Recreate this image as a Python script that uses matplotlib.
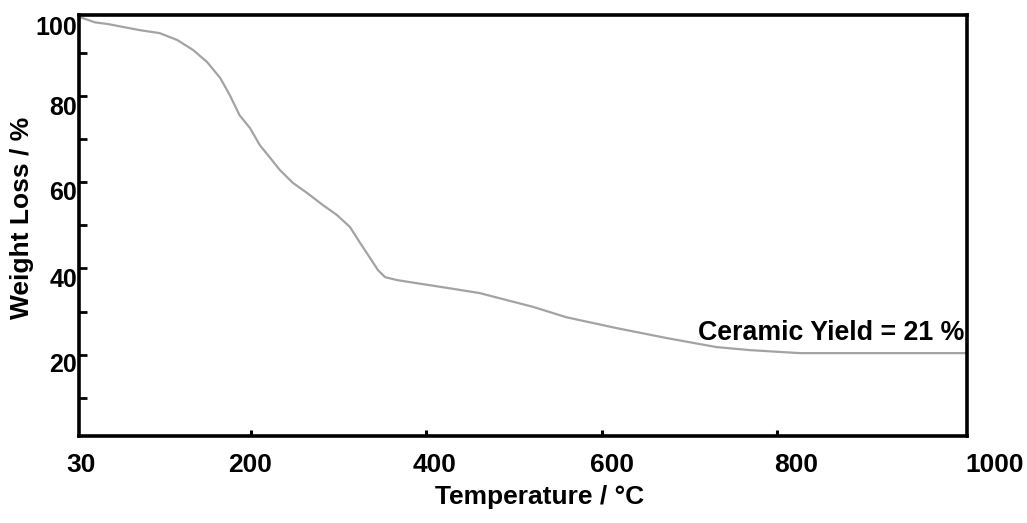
import matplotlib
matplotlib.use("Agg")
import matplotlib.pyplot as plt

plt.rcParams["font.family"] = ["Liberation Sans", "DejaVu Sans"]
plt.rcParams["font.weight"] = "bold"

# TGA curve
temperature = [5, 22, 37, 73, 96, 116, 134, 150, 165, 176, 187, 199, 210,
               222, 233, 248, 264, 282, 298, 313, 324, 336, 345, 353, 367,
               389, 424, 461, 522, 560, 617, 674, 731, 769, 826, 1017]
weight = [98.2, 97.0, 96.6, 95.2, 94.5, 92.9, 90.6, 87.8, 84.1, 80.1, 75.5,
          72.5, 68.6, 65.6, 62.8, 59.8, 57.5, 54.7, 52.4, 49.6, 46.1, 42.4,
          39.6, 38.0, 37.3, 36.6, 35.5, 34.3, 31.1, 28.7, 26.2, 23.9, 21.8,
          21.1, 20.4, 20.4]

# tick marks and (slightly offset) tick labels as drawn in the original
x_ticks = [200, 400, 600, 800]
x_labels = ["30", "200", "400", "600", "800", "1000"]
x_label_pos = [6, 199, 410, 612, 822, 1049]
y_ticks = [10, 20, 30, 40, 50, 60, 70, 80, 90]
y_labels = ["100", "80", "60", "40", "20"]
y_label_pos = [95.6, 77.1, 57.5, 37.3, 17.6]

fig = plt.figure(figsize=(10.27, 5.23), dpi=100)
ax = fig.add_axes([0.0769, 0.1663, 0.8647, 0.805])

ax.plot(temperature, weight, color="#a3a3a3", lw=1.6)
ax.set_xlim(3.8, 1017)
ax.set_ylim(1.2, 98.7)

for s in ax.spines.values():
    s.set_linewidth(2.6)

ax.set_xticks(x_ticks)
ax.set_xticklabels([])
ax.set_yticks(y_ticks)
ax.set_yticklabels([])
ax.tick_params(axis="x", direction="in", length=4, width=2.2)
ax.tick_params(axis="y", direction="in", length=6, width=2.0)

xt = ax.get_xaxis_transform()
for lab, pos in zip(x_labels, x_label_pos):
    ax.text(pos, -0.068, lab, transform=xt, ha="center", va="center",
            fontsize=19, fontweight="bold", clip_on=False)

yt = ax.get_yaxis_transform()
for lab, pos in zip(y_labels, y_label_pos):
    ax.text(-0.002, pos, lab, transform=yt, ha="right", va="center",
            fontsize=18, fontweight="bold", clip_on=False)

ax.text(1014, 25.0, "Ceramic Yield = 21 %", ha="right", va="center",
        fontsize=19.3, fontweight="bold")

fig.text(540 / 1027, 1 - 497 / 523, "Temperature / °C", ha="center",
         va="center", fontsize=19, fontweight="bold")
fig.text(22 / 1027, 1 - 218 / 523, "Weight Loss / %", ha="center",
         va="center", rotation=90, fontsize=19, fontweight="bold")

fig.savefig("out.png", dpi=100)
